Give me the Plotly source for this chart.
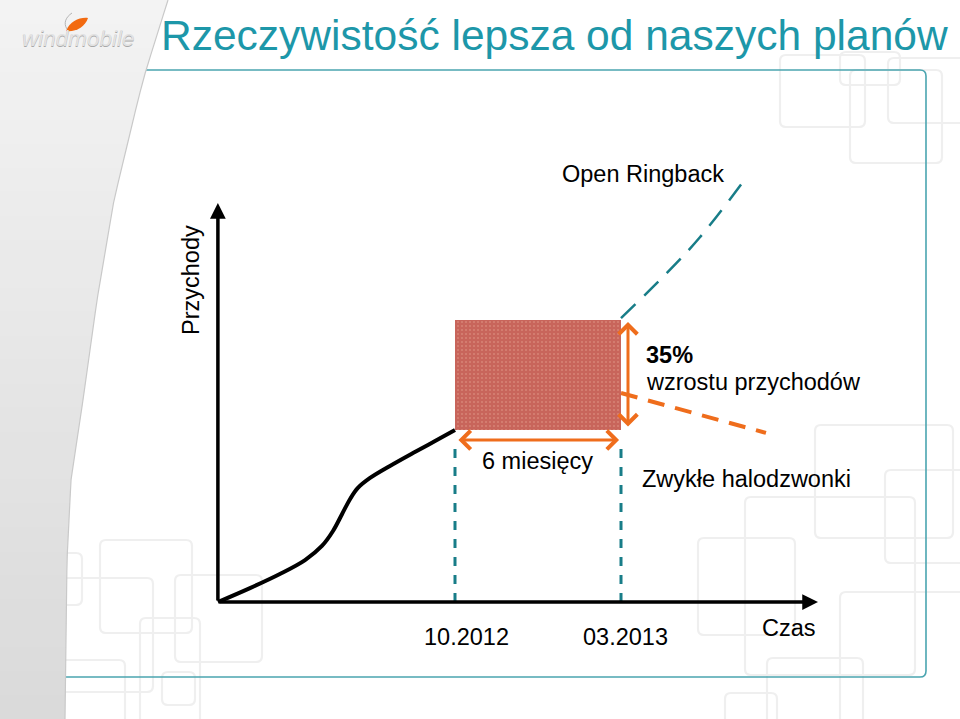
import numpy as np
import plotly.graph_objects as go

W, H = 960, 719

# ---------------- data ----------------
# time in months relative to 10.2012, revenue as an index (100 = revenue at 10.2012)
hist_months = [-8.57, -7.41, -6.33, -5.42, -4.81, -4.41, -4.08, -3.79, -3.51, -3.07, -2.35, -1.45, -0.72, 0.0]
hist_revenue = [0, 8.1, 16.3, 24.4, 32.6, 41.3, 51.2, 59.9, 66.3, 72.1, 79.1, 87.2, 93.6, 100]
ringback_months = [6, 7.66, 8.86, 10.41]
ringback_revenue = [165.1, 191.3, 212.2, 244.2]
regular_months = [6, 11.24]
regular_revenue = [121.5, 98.3]
period_months = [0, 6]
period_labels = ["10.2012", "03.2013"]
gap_revenue = [100, 164]
axis_origin = [-8.57, 0]
axis_x_end = 13.12
axis_y_end = 232

title_text = "Rzeczywistość lepsza od naszych planów"

# ---------------- scale (pixel layout of the slide) ----------------
X0_PX, PXM = 455, 166 / 6
Y0_PX, PXU = 602, 1.72
x_range = [(0 - X0_PX) / PXM, (W - X0_PX) / PXM]
y_range = [(Y0_PX - H) / PXU, Y0_PX / PXU]


def dx(px):
    return (px - X0_PX) / PXM


def dy(py):
    return (Y0_PX - py) / PXU


def P(px, py):
    return f"{px / W:.5f},{1 - py / H:.5f}"


FONT = "Liberation Sans, Arial, sans-serif"
TEAL_D = "#187d88"
ORANGE = "#ef6d1c"

fig = go.Figure()
shapes = []

# ---------------- background decoration ----------------
squares = [
    (780, 55, 865, 127), (850, 70, 942, 163), (888, 58, 975, 123), (840, 52, 900, 85),
    (100, 540, 192, 633), (58, 553, 82, 605), (58, 578, 153, 692), (140, 618, 200, 730),
    (175, 575, 262, 662), (162, 672, 195, 705), (58, 660, 125, 730),
    (698, 538, 795, 635), (745, 497, 915, 675), (815, 425, 953, 538),
    (885, 470, 975, 563), (840, 592, 975, 730), (767, 658, 863, 730), (725, 693, 777, 730),
]
for (a, b, c, d) in squares:
    r = 6
    path = (f"M{P(a + r, b)} L{P(c - r, b)} Q{P(c, b)} {P(c, b + r)} L{P(c, d - r)} "
            f"Q{P(c, d)} {P(c - r, d)} L{P(a + r, d)} Q{P(a, d)} {P(a, d - r)} "
            f"L{P(a, b + r)} Q{P(a, b)} {P(a + r, b)} Z")
    shapes.append(dict(type="path", path=path, xref="paper", yref="paper",
                       line=dict(color="#efefef", width=2.2), layer="below"))

# frame
r = 6
frame = (f"M{P(30, 70)} L{P(926 - r, 70)} Q{P(926, 70)} {P(926, 70 + r)} "
         f"L{P(926, 677 - r)} Q{P(926, 677)} {P(926 - r, 677)} L{P(30, 677)}")
shapes.append(dict(type="path", path=frame, xref="paper", yref="paper",
                   line=dict(color="#4ba5b0", width=1.6), layer="below"))

# gray side panel (banded gradient)
edge_py = [0, 70, 100, 200, 300, 400, 480, 560, 719]
edge_px = [168, 146, 138, 114, 97, 83, 71, 67, 65]
nb = 30
ys = np.linspace(0, H, nb + 1)
c_top = np.array([244, 244, 244])
c_bot = np.array([218, 218, 218])
for i in range(nb):
    y0, y1 = ys[i], min(ys[i + 1] + 1, H)
    sub = np.linspace(y0, y1, 5)
    pts = [(0, y0)] + [(float(np.interp(v, edge_py, edge_px)), v) for v in sub] + [(0, y1)]
    t = (i + 0.5) / nb
    col = (c_top * (1 - t) + c_bot * t).astype(int)
    path = "M" + " L".join(P(px, py) for px, py in pts) + " Z"
    shapes.append(dict(type="path", path=path, xref="paper", yref="paper",
                       fillcolor=f"rgb({col[0]},{col[1]},{col[2]})",
                       line=dict(width=0), layer="below"))
edge_line = np.linspace(0, H, 40)
path = "M" + " L".join(P(float(np.interp(v, edge_py, edge_px)), v) for v in edge_line)
shapes.append(dict(type="path", path=path, xref="paper", yref="paper",
                   line=dict(color="#c9c9c9", width=1.2), layer="below"))

# logo leaf
leaf = f"M{P(66, 31)} C{P(70, 21)} {P(80, 17)} {P(88, 18)} C{P(85, 27)} {P(76, 32)} {P(66, 31)} Z"
shapes.append(dict(type="path", path=leaf, xref="paper", yref="paper",
                   fillcolor="#f26a10", line=dict(width=0), layer="below"))
leaf2 = f"M{P(67, 29)} C{P(63, 23)} {P(66, 17)} {P(72, 13)}"
shapes.append(dict(type="path", path=leaf2, xref="paper", yref="paper",
                   line=dict(color="#b4b4b4", width=1), layer="below"))

# ---------------- chart marks ----------------
# growth block (6 months of extra revenue)
fig.add_trace(go.Bar(
    x=[(period_months[0] + period_months[1]) / 2],
    y=[gap_revenue[1] - gap_revenue[0]],
    base=[gap_revenue[0]],
    width=[period_months[1] - period_months[0]],
    marker=dict(color="#c8655b", line=dict(width=0),
                pattern=dict(shape=".", fgcolor="#e6a190", size=4, solidity=0.2)),
    hoverinfo="skip", showlegend=False))

# dashed verticals at the period limits
for m in period_months:
    fig.add_trace(go.Scatter(x=[m, m], y=[0, dy(440)], mode="lines",
                             line=dict(color=TEAL_D, width=3, dash="dash"),
                             hoverinfo="skip", showlegend=False))

# historical revenue curve
fig.add_trace(go.Scatter(x=hist_months, y=hist_revenue, mode="lines",
                         line=dict(color="black", width=4, shape="spline", smoothing=1.0),
                         hoverinfo="skip", showlegend=False))

# projections
fig.add_trace(go.Scatter(x=ringback_months, y=ringback_revenue, mode="lines",
                         line=dict(color=TEAL_D, width=2.5, dash="20px,12px", shape="spline"),
                         hoverinfo="skip", showlegend=False))
fig.add_trace(go.Scatter(x=regular_months, y=regular_revenue, mode="lines",
                         line=dict(color=ORANGE, width=4, dash="17px,11px"),
                         hoverinfo="skip", showlegend=False))

annotations = []

# axes with arrow heads
annotations.append(dict(x=axis_x_end, y=axis_origin[1], ax=axis_origin[0], ay=axis_origin[1],
                        xref="x", yref="y", axref="x", ayref="y", text="", showarrow=True,
                        arrowhead=2, arrowsize=0.9, arrowwidth=3.5, arrowcolor="black",
                        standoff=0, startstandoff=0))
annotations.append(dict(x=axis_origin[0], y=axis_y_end, ax=axis_origin[0], ay=axis_origin[1],
                        xref="x", yref="y", axref="x", ayref="y", text="", showarrow=True,
                        arrowhead=2, arrowsize=0.9, arrowwidth=3.5, arrowcolor="black",
                        standoff=0, startstandoff=0))

# orange double arrows
annotations.append(dict(x=dx(628), y=gap_revenue[1] - 1.2, ax=dx(628), ay=gap_revenue[0] + 1.2,
                        xref="x", yref="y", axref="x", ayref="y", text="", showarrow=True,
                        arrowhead=4, startarrowhead=4, arrowside="end+start",
                        arrowsize=1.2, startarrowsize=1.2, arrowwidth=3, arrowcolor=ORANGE,
                        standoff=0, startstandoff=0))
annotations.append(dict(x=period_months[1] - 0.07, y=dy(440), ax=period_months[0] + 0.07, ay=dy(440),
                        xref="x", yref="y", axref="x", ayref="y", text="", showarrow=True,
                        arrowhead=4, startarrowhead=4, arrowside="end+start",
                        arrowsize=1.2, startarrowsize=1.2, arrowwidth=3, arrowcolor=ORANGE,
                        standoff=0, startstandoff=0))

TS = 23.5


def label(text, x, y, xanchor="center", size=TS, bold=False, angle=0):
    t = f"<b>{text}</b>" if bold else text
    annotations.append(dict(x=x, y=y, xref="x", yref="y", text=t, showarrow=False,
                            xanchor=xanchor, yanchor="middle", textangle=angle,
                            font=dict(family=FONT, size=size, color="black")))


label("Open Ringback", dx(643), dy(174))
label("35%", dx(644), dy(354.5), xanchor="left", bold=True)
label("wzrostu przychodów", dx(644), dy(381.5), xanchor="left")
label("6 miesięcy", dx(537.5), dy(461))
label("Zwykłe halodzwonki", dx(640), dy(478.5), xanchor="left")
label(period_labels[0], period_months[0] + 0.4, dy(636.5))
label(period_labels[1], period_months[1] + 0.17, dy(636.5))
label("Czas", dx(788.5), dy(627.5))
label("Przychody", dx(191), dy(280), angle=-90)

# title
annotations.append(dict(x=159 / W, y=1 - 35.5 / H, xref="paper", yref="paper",
                        text=title_text, showarrow=False, xanchor="left", yanchor="middle",
                        font=dict(family=FONT, size=42.5, color="#1d97a9")))
# logo text
annotations.append(dict(x=78.8 / W, y=1 - 39.8 / H, xref="paper", yref="paper",
                        text="<i>windmobile</i>", showarrow=False, xanchor="center", yanchor="middle",
                        font=dict(family=FONT, size=22.5, color="#a9a9a9")))
annotations.append(dict(x=78 / W, y=1 - 39 / H, xref="paper", yref="paper",
                        text="<i>windmobile</i>", showarrow=False, xanchor="center", yanchor="middle",
                        font=dict(family=FONT, size=22.5, color="#e2e2e2")))

fig.update_layout(
    width=W, height=H, autosize=False,
    margin=dict(l=0, r=0, t=0, b=0, pad=0),
    paper_bgcolor="white", plot_bgcolor="rgba(0,0,0,0)",
    xaxis=dict(range=x_range, visible=False, fixedrange=True),
    yaxis=dict(range=y_range, visible=False, fixedrange=True),
    shapes=shapes, annotations=annotations,
    showlegend=False, bargap=0,
)

fig.write_html("out.html", config=dict(displayModeBar=False, staticPlot=True),
               post_script="document.body.style.margin='0';document.body.style.overflow='hidden';")
